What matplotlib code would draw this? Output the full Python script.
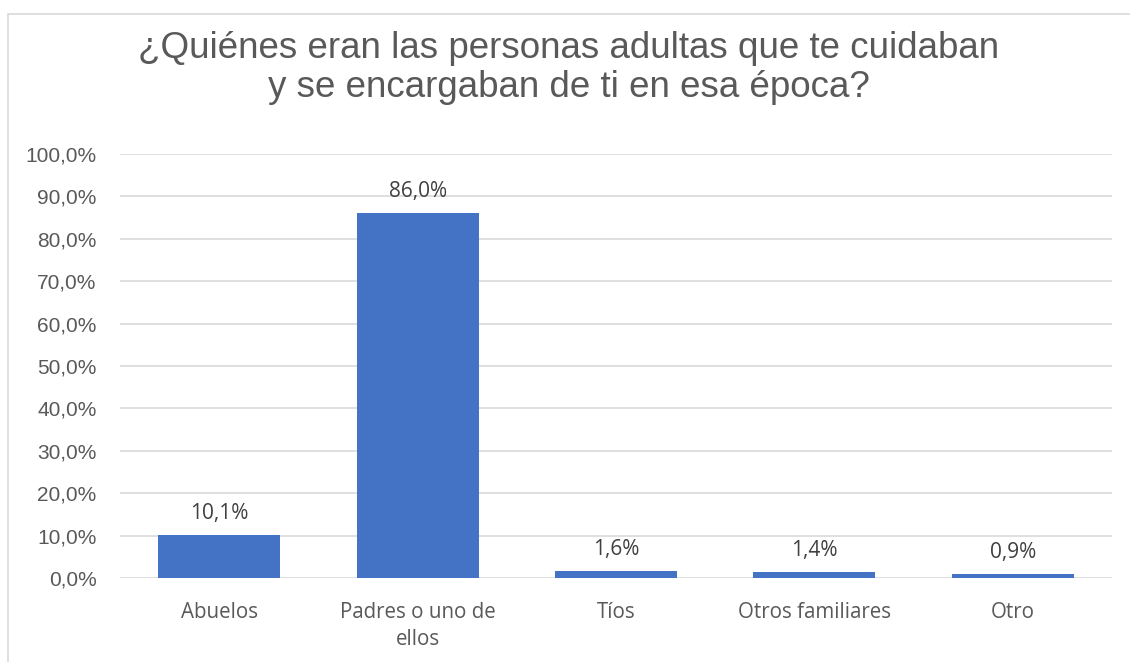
import matplotlib.pyplot as plt
from matplotlib.patches import Rectangle
from matplotlib.ticker import FuncFormatter

categories = ["Abuelos", "Padres o uno de\nellos", "Tíos", "Otros familiares", "Otro"]
values = [10.1, 86.0, 1.6, 1.4, 0.9]
title = "¿Quiénes eran las personas adultas que te cuidaban\ny se encargaban de ti en esa época?"

BLUE = "#4472C4"
GRID = "#D9D9D9"
TEXT = "#595959"


def pct(v):
    return ("%.1f%%" % v).replace(".", ",")


def make_plot():
    fig = plt.figure(figsize=(11.3, 6.62), dpi=100)
    ax = fig.add_axes([0.1062, 0.1269, 0.8778, 0.6405])

    # chart border
    fig.patches.append(Rectangle((8 / 1130, -0.01), 1.1, 1 - 14 / 662 + 0.01,
                                 transform=fig.transFigure, fill=False,
                                 edgecolor=GRID, linewidth=1.2))

    x = list(range(len(categories)))
    ax.bar(x, [v / 100 for v in values], width=0.615, color=BLUE, zorder=3)
    for xi, v in zip(x, values):
        ax.annotate(pct(v), (xi, v / 100), xytext=(0, 8), textcoords="offset points",
                    ha="center", va="bottom", fontsize=15, color="#404040",
                    family="Open Sans")

    ax.set_xlim(-0.5, len(categories) - 0.5)
    ax.set_ylim(0, 1)
    ax.set_yticks([i / 10 for i in range(11)])
    ax.yaxis.set_major_formatter(FuncFormatter(lambda v, p: pct(v * 100)))
    ax.set_xticks(x)
    ax.set_xticklabels(categories, family="Open Sans", fontsize=14.8, color=TEXT,
                       linespacing=1.4)
    for lab in ax.get_yticklabels():
        lab.set_family("Liberation Sans")
        lab.set_fontsize(15)
        lab.set_color(TEXT)

    ax.grid(axis="y", color=GRID, linewidth=1.2, zorder=0)
    ax.tick_params(axis="y", length=0, pad=17)
    ax.tick_params(axis="x", length=0, pad=17)
    for s in ax.spines.values():
        s.set_visible(False)

    fig.text(0.5 * (8 / 1130 + 1), 1 - 68 / 662, title, ha="center", va="center",
             fontsize=26.5, color=TEXT, family="Liberation Sans", linespacing=1.13)

    fig.savefig("out.png", dpi=100)


make_plot()
